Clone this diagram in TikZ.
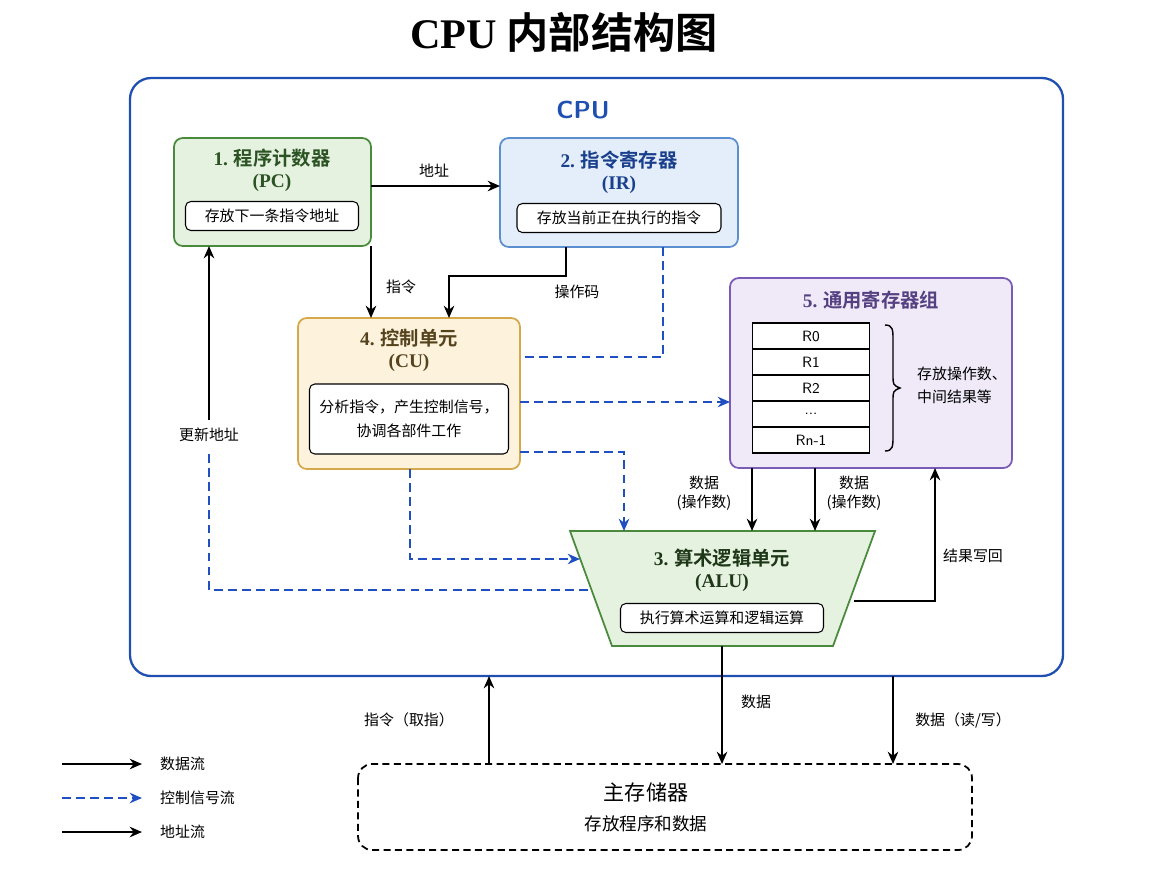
\documentclass[tikz,border=0pt]{standalone}
\usepackage{fontspec}
\setmainfont{Liberation Serif}
\newfontfamily\cjk{Noto Sans CJK SC}
\newfontfamily\cjkb{Noto Sans CJK SC Bold}
\newfontfamily\lsb{Liberation Serif Bold}
\usetikzlibrary{arrows.meta}
\definecolor{cpub}{HTML}{1F4FB0}
\definecolor{gfill}{HTML}{E6F2E0}\definecolor{gline}{HTML}{4A8A3C}
\definecolor{bfill}{HTML}{E3EEFA}\definecolor{bline}{HTML}{5B8FD0}
\definecolor{yfill}{HTML}{FDF3DC}\definecolor{yline}{HTML}{D4A84B}
\definecolor{pfill}{HTML}{EFE9F8}\definecolor{pline}{HTML}{7A5BB8}
\definecolor{ctl}{HTML}{1F4FC0}
\tikzset{
 unitbox/.style={draw=#1,line width=1pt,rounded corners=5pt},
 inner/.style={draw=black,fill=white,rounded corners=3pt,line width=0.6pt,font=\cjk\fontsize{8.5}{11}\selectfont,align=center,inner sep=0pt},
 ttl/.style={font=\cjkb\fontsize{11}{12}\selectfont,align=center},
 lbl/.style={font=\cjk\fontsize{8.5}{11}\selectfont,align=center},
 dflow/.style={-{Stealth[length=7pt,width=6pt]},line width=1pt},
 cflow/.style={-{Stealth[length=7pt,width=6pt]},line width=1pt,ctl,dash pattern=on 5pt off 3pt},
 cline/.style={line width=1pt,ctl,dash pattern=on 5pt off 3pt},
 reg/.style={draw=black,fill=white,line width=0.6pt,minimum width=117*0.02cm,minimum height=26*0.02cm,font=\sffamily\fontsize{8.5}{10}\selectfont,inner sep=0pt}
}
\begin{document}
\begin{tikzpicture}[x=0.02cm,y=-0.02cm]
\useasboundingbox (0,0) rectangle (1168,880);
\node[font=\cjkb\fontsize{24}{26}\selectfont] (title) at (564,32) {{\lsb CPU} 内部结构图};
\draw[cpub,line width=1.3pt,rounded corners=12pt] (130,78) rectangle (1063,676);
\node[font=\sffamily\bfseries\fontsize{14}{16}\selectfont,text=cpub] (cpul) at (583,110) {CPU};
% PC
\draw[unitbox=gline,fill=gfill] (174,138) rectangle (371,246);
\node[ttl,text=gline!60!black] at (272,158) {{\lsb 1.} 程序计数器};
\node[ttl,text=gline!60!black] at (272,183) {\lsb (PC)};
\node[inner,minimum width=173*0.02cm,minimum height=29*0.02cm] (pci) at (272,216) {存放下一条指令地址};
% IR
\draw[unitbox=bline,fill=bfill] (500,138) rectangle (738,247);
\node[ttl,text=cpub!80!black] at (619,160) {{\lsb 2.} 指令寄存器};
\node[ttl,text=cpub!80!black] at (619,185) {\lsb (IR)};
\node[inner,minimum width=204*0.02cm,minimum height=29*0.02cm] (iri) at (619,218) {存放当前正在执行的指令};
% CU
\draw[unitbox=yline,fill=yfill] (298,318) rectangle (520,469);
\node[ttl,text=yline!40!black] at (409,338) {{\lsb 4.} 控制单元};
\node[ttl,text=yline!40!black] at (409,363) {\lsb (CU)};
\node[inner,minimum width=199*0.02cm,minimum height=70*0.02cm] (cui) at (409,419) {分析指令，产生控制信号，\\[3pt]协调各部件工作};
% GPR
\draw[unitbox=pline,fill=pfill] (730,278) rectangle (1012,468);
\node[ttl,text=pline!70!black] at (871,300) {{\lsb 5.} 通用寄存器组};
\node[reg] (r0) at (811,336) {R0};
\node[reg] (r1) at (811,362) {R1};
\node[reg] (r2) at (811,388) {R2};
\node[reg] (r3) at (811,414) {...};
\node[reg] (r4) at (811,440) {Rn-1};
\draw[line width=0.8pt] (885,325) .. controls (893,325) and (893,330) .. (893,340) -- (893,375) .. controls (893,385) .. (900,388) .. controls (893,391) .. (893,401) -- (893,436) .. controls (893,446) and (893,451) .. (885,451);
\node[lbl,align=left] (gprt) at (962,385) {存放操作数、\\[2pt]中间结果等};
% ALU
\draw[line width=1pt,draw=gline,fill=gfill] (570,531) -- (875,531) -- (833,646) -- (612,646) -- cycle;
\node[ttl,text=gline!40!black] at (722,558) {{\lsb 3.} 算术逻辑单元};
\node[ttl,text=gline!40!black] at (722,583) {\lsb (ALU)};
\node[inner,minimum width=203*0.02cm,minimum height=29*0.02cm] (alui) at (722,618) {执行算术运算和逻辑运算};
% Memory
\draw[line width=1pt,dash pattern=on 4pt off 2.5pt,rounded corners=8pt] (358,764) rectangle (972,850);
\node[font=\cjk\fontsize{12}{14}\selectfont] (mem) at (646,792) {主存储器};
\node[lbl,font=\cjk\fontsize{10}{12}\selectfont] at (646,824) {存放程序和数据};
% data arrows
\draw[dflow] (371,186) -- (500,186);
\node[lbl] at (434,171) {地址};
\draw[dflow] (371,246) -- (371,318);
\node[lbl] at (401,287) {指令};
\draw[dflow] (566,247) -- (566,276) -- (449,276) -- (449,318);
\node[lbl] at (577,292) {操作码};
\draw[dflow] (209,420) -- (209,246);
\node[lbl] at (209,435) {更新地址};
\draw[dflow] (752,468) -- (752,531);
\draw[dflow] (815,468) -- (815,531);
\node[lbl] at (704,493) {数据\\(操作数)};
\node[lbl] at (854,493) {数据\\(操作数)};
\draw[dflow] (854,601) -- (935,601) -- (935,468);
\node[lbl] at (973,556) {结果写回};
\draw[dflow] (722,646) -- (722,764);
\node[lbl] at (756,702) {数据};
\draw[dflow] (489,764) -- (489,676);
\node[lbl] at (409,720) {指令（取指）};
\draw[dflow] (893,676) -- (893,764);
\node[lbl] at (963,720) {数据（读/写）};
% control
\draw[cline] (663,247) -- (663,357) -- (520,357);
\draw[cflow] (520,402) -- (730,402);
\draw[cflow] (520,452) -- (624,452) -- (624,531);
\draw[cflow] (410,469) -- (410,559) -- (580,559);
\draw[cline] (588,590) -- (209,590) -- (209,452);
% legend
\draw[dflow] (62,764) -- (142,764); \node[lbl,anchor=west] at (154,764) {数据流};
\draw[cflow] (62,798) -- (142,798); \node[lbl,anchor=west] at (154,798) {控制信号流};
\draw[dflow] (62,832) -- (142,832); \node[lbl,anchor=west] at (154,832) {地址流};
\end{tikzpicture}
\end{document}
